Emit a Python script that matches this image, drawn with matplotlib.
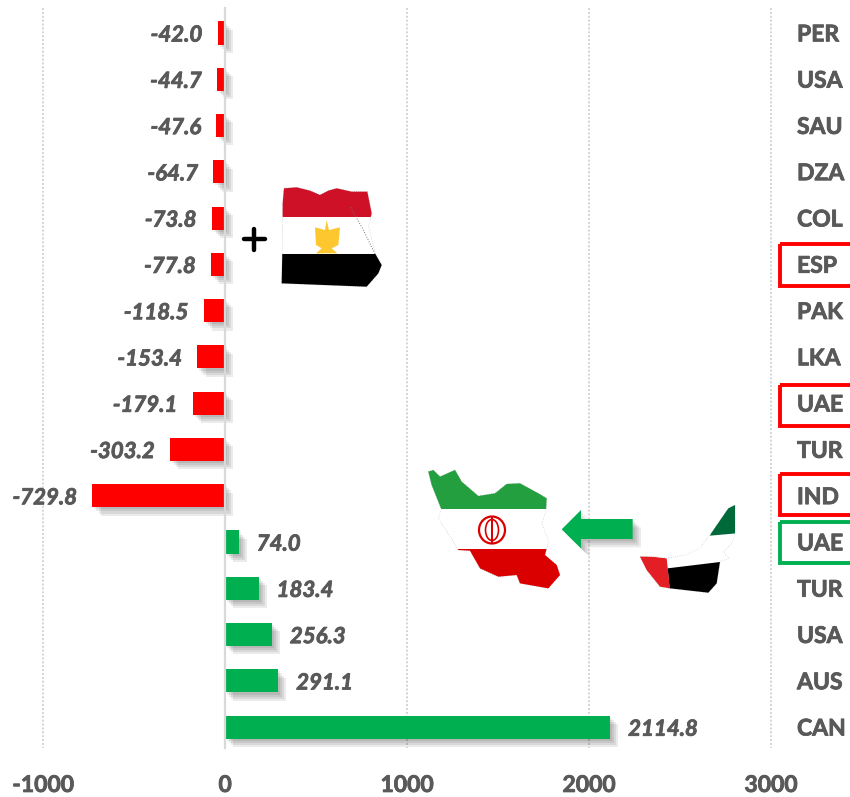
import matplotlib
matplotlib.use('Agg')
import matplotlib.pyplot as plt
import matplotlib.patheffects as pe
from matplotlib.patches import Polygon, Rectangle, Ellipse

countries = ['PER', 'USA', 'SAU', 'DZA', 'COL', 'ESP', 'PAK', 'LKA',
             'UAE', 'TUR', 'IND', 'UAE', 'TUR', 'USA', 'AUS', 'CAN']
values = [-42.0, -44.7, -47.6, -64.7, -73.8, -77.8, -118.5, -153.4,
          -179.1, -303.2, -729.8, 74.0, 183.4, 256.3, 291.1, 2114.8]
x_ticks = [-1000, 0, 1000, 2000, 3000]

RED = '#ff0000'
GREEN = '#00b050'
GREY = '#595959'

plt.rcParams['font.family'] = ['Lato', 'DejaVu Sans']

fig = plt.figure(figsize=(8.5, 7.97), dpi=100)
ax = fig.add_axes([0, 0, 1, 1])
ax.set_xlim(-1237, 3433)
ax.set_ylim(16.51, -0.713)
ax.axis('off')

# soft shadow made of a few offset layers
soft = [pe.SimplePatchShadow(offset=(o, -o), shadow_rgbFace='k', alpha=0.08) for o in (1.5, 3, 4.5, 6)]
soft.append(pe.Normal())
heavy = [pe.withStroke(linewidth=0.6, foreground=GREY)]

for t in x_ticks:
    if t == 0:
        ax.plot([t, t], [-0.54, 15.45], color='#d9d9d9', lw=1.6, zorder=3)
    else:
        ax.plot([t, t], [-0.54, 15.45], color='#d4d4d4', lw=1.4, ls=(0, (1, 1)), zorder=1)
    ax.text(t, 16.26, str(t), ha='center', va='center', fontsize=16.5,
            fontweight='bold', color=GREY, path_effects=heavy)

for i, (c, v) in enumerate(zip(countries, values)):
    col = RED if v < 0 else GREEN
    h = 0.5
    ax.barh(i, v, height=h, color=col, zorder=2, path_effects=soft)
    lab = ax.annotate(f'{v:.1f}', (v, i), xytext=(-11 if v < 0 else 13, -1.5),
                      textcoords='offset points', ha='right' if v < 0 else 'left',
                      va='center', fontsize=16, fontweight='bold', style='italic',
                      color=GREY)
    lab.set_path_effects([pe.SimpleLineShadow(offset=(1, -1), shadow_color='k', alpha=0.15),
                          pe.withStroke(linewidth=0.6, foreground=GREY)])
    ax.text(3142, i + 0.04, c, ha='left', va='center', fontsize=16.5, fontweight='bold',
            color=GREY, path_effects=heavy)

# overlay in pixel coordinates for the flags, arrow and boxes
ov = fig.add_axes([0, 0, 1, 1], facecolor='none')
ov.set_xlim(0, 850)
ov.set_ylim(797, 0)
ov.axis('off')

for y0, y1, col in [(244, 286, RED), (385, 426, RED), (474, 515, RED), (522, 563, GREEN)]:
    ov.add_patch(Rectangle((780.5, y0), 90, y1 - y0, fill=False, ec=col, lw=2.8))

# plus sign
ov.plot([244, 265], [239, 239], color='k', lw=3.2, solid_capstyle='round')
ov.plot([254.5, 254.5], [229, 250], color='k', lw=3.2, solid_capstyle='round')


def zoomed(pts, x0, y0):
    return [(x0 + a / 3, y0 + b / 3) for a, b in pts]


def flag_map(outline, bands):
    shape = Polygon(outline, closed=True, fc='none', ec='#aaaaaa', lw=0.6, ls=':')
    ov.add_patch(shape)
    for pts, col in bands:
        p = Polygon(pts, closed=True, fc=col, ec='none')
        ov.add_patch(p)
        p.set_clip_path(shape)


# Egypt
egy = zoomed([(162, 55), (200, 52), (240, 62), (270, 75), (295, 62), (320, 55), (365, 65), (412, 65),
              (425, 130), (415, 170), (435, 250), (455, 285), (445, 310), (410, 350), (155, 340),
              (158, 200), (158, 100)], 230, 170)
flag_map(egy, [
    ([(270, 170), (390, 170), (390, 217), (270, 217)], '#ce1126'),
    ([(270, 217), (390, 217), (390, 254), (270, 254)], 'white'),
    ([(270, 254), (390, 254), (390, 295), (270, 295)], 'black'),
])
ov.add_patch(Polygon(zoomed([(255, 172), (285, 180), (290, 150), (297, 180), (330, 172), (325, 225),
                             (305, 235), (322, 250), (258, 250), (275, 235), (258, 225)], 230, 170),
                     closed=True, fc='#fdc82f', ec='none'))
ov.plot(*zip(*zoomed([(362, 112), (400, 180), (435, 252)], 230, 170)), color='#777777', lw=0.7, ls=':')

# Iran
irn = zoomed([(25, 35), (40, 30), (60, 50), (105, 30), (125, 65), (175, 108), (225, 100), (260, 72),
              (300, 70), (355, 100), (380, 115), (378, 150), (365, 190), (385, 245), (375, 285),
              (410, 315), (420, 345), (385, 385), (300, 370), (290, 345), (235, 350), (180, 325),
              (150, 272), (115, 270), (95, 235), (55, 175), (65, 150), (35, 75)], 420, 460)
flag_map(irn, [
    ([(420, 460), (560, 460), (560, 509), (420, 509)], '#239f40'),
    ([(420, 509), (560, 509), (560, 549), (420, 549)], 'white'),
    ([(420, 549), (565, 549), (565, 595), (420, 595)], '#da0000'),
])
ov.add_patch(Ellipse((492, 530), 26, 27, fc='none', ec='#da0000', lw=1.6))
ov.add_patch(Ellipse((492, 530), 13, 21, fc='none', ec='#da0000', lw=1.2))
ov.add_patch(Rectangle((491, 516), 2.5, 27, fc='#da0000', ec='none'))

# arrow from UAE to Iran
ov.add_patch(Polygon(zoomed([(425, 208), (483, 150), (483, 177), (638, 177), (638, 237), (483, 237),
                             (483, 265)], 420, 460), closed=True, fc=GREEN, ec='none', path_effects=soft))

# UAE
uae = zoomed([(660, 290), (705, 290), (740, 295), (800, 285), (840, 265), (870, 225), (925, 145),
              (945, 135), (945, 220), (935, 250), (910, 275), (925, 295), (900, 305), (890, 370),
              (865, 398), (750, 385), (720, 380), (680, 330)], 420, 460)
flag_map(uae, [
    (zoomed([(650, 120), (950, 120), (950, 400), (650, 400)], 420, 460), 'white'),
    (zoomed([(870, 227), (950, 220), (950, 120), (900, 120)], 420, 460), '#00693a'),
    (zoomed([(743, 325), (900, 306), (900, 400), (750, 400)], 420, 460), 'black'),
    (zoomed([(650, 285), (740, 295), (750, 390), (700, 390)], 420, 460), '#e31e24'),
])

fig.savefig('out.png', dpi=100)
